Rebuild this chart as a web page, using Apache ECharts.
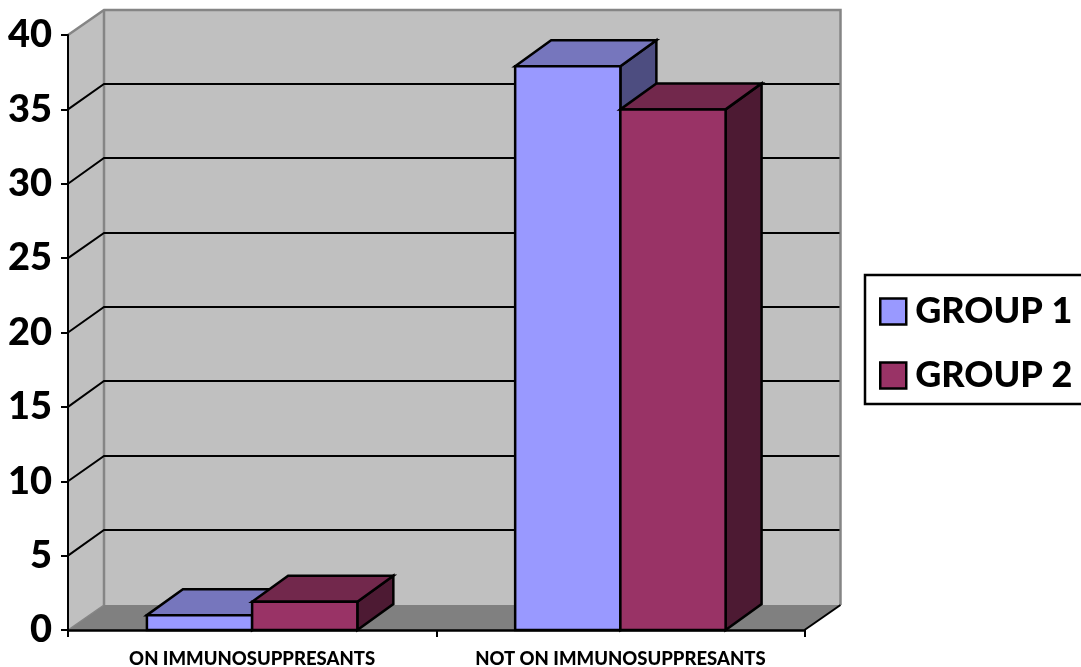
<!DOCTYPE html>
<html>
<head>
<meta charset="utf-8">
<style>html,body{margin:0;padding:0;background:#fff}#chart{width:1081px;height:667px}</style>
<script src="https://cdn.jsdelivr.net/npm/echarts@6/dist/echarts.min.js"></script>
</head>
<body>
<div id="chart"></div>
<script>
const categories = ['ON IMMUNOSUPPRESANTS', 'NOT ON IMMUNOSUPPRESANTS'];
const group1 = [1, 37.9];
const group2 = [1.9, 35];
const yTicks = [5, 10, 15, 20, 25, 30, 35];

const FONT = 'Lato, "Open Sans", sans-serif';
const WALL_DX = 36, WALL_DY = 25;   // receding offset of the chart box
const BAR_DX = 36, BAR_DY = 26;     // receding offset of each column
const GAP_UNITS = 3.5;              // band width expressed in column widths
const EDGE = 2.5;                   // outline width of the columns

const line = (pts, color, width) => ({
  type: 'polyline', shape: { points: pts },
  style: { stroke: color, lineWidth: width, fill: null, lineJoin: 'miter' }
});
const poly = (pts, fill, stroke, width) => ({
  type: 'polygon', shape: { points: pts },
  style: { fill, stroke: stroke || fill, lineWidth: width || 0, lineJoin: 'miter' }
});

// Side wall, back wall and floor of the box
function renderWalls(params, api) {
  const g = params.coordSys;
  const x0 = g.x, x1 = g.x + g.width;
  const yB = api.coord([0, 0])[1], yT = api.coord([0, 40])[1];
  const dx = WALL_DX, dy = WALL_DY;
  const grey = '#858585';
  return {
    type: 'group',
    children: [
      poly([[x0 + dx, yT - dy], [x1 + dx, yT - dy], [x1 + dx, yB - dy], [x0 + dx, yB - dy]], '#c0c0c0'),
      poly([[x0, yT], [x0 + dx, yT - dy], [x0 + dx, yB - dy], [x0, yB]], '#c0c0c0'),
      poly([[x0, yB], [x0 + dx, yB - dy], [x1 + dx, yB - dy], [x1, yB]], '#808080'),
      line([[x0, yT], [x0 + dx, yT - dy], [x1 + dx, yT - dy], [x1 + dx, yB - dy]], grey, 2.5),
      line([[x0 + dx, yT - dy], [x0 + dx, yB - dy]], grey, 2.5),
      line([[x0, yB], [x0 + dx, yB - dy]], grey, 1.5),
      line([[x1, yB], [x1 + dx, yB - dy]], '#000', 2)
    ]
  };
}

// One gridline bent along the side wall and the back wall
function renderGridline(params, api) {
  const g = params.coordSys;
  const y = api.coord([0, api.value(1)])[1];
  const back = Math.floor(y - WALL_DY);
  return line([
    [g.x, y],
    [g.x + WALL_DX, back],
    [g.x + g.width + WALL_DX - 1, back]
  ], '#000', 2);
}

// A column with front, top and side faces; slot 0 sits left of the band centre, slot 1 right
function columnRenderer(slot, front, top, side) {
  return function (params, api) {
    const idx = api.value(0);
    const base = api.coord([idx, 0]);
    const head = api.coord([idx, api.value(1)]);
    const w = api.size([1, 0])[0] / GAP_UNITS;
    const l = base[0] + (slot - 1) * w, r = l + w;
    const yt = head[1], yb = base[1];
    const dx = BAR_DX, dy = BAR_DY;
    return {
      type: 'group',
      children: [
        poly([[r, yt], [r + dx, yt - dy], [r + dx, yb - dy], [r, yb]], side, '#000', EDGE),
        poly([[l, yt], [l + dx, yt - dy], [r + dx, yt - dy], [r, yt]], top, '#000', EDGE),
        poly([[l, yt], [r, yt], [r, yb], [l, yb]], front, '#000', EDGE)
      ]
    };
  };
}

const chart = echarts.init(document.getElementById('chart'), null, { renderer: 'canvas' });
chart.setOption({
  animation: false,
  backgroundColor: '#fff',
  color: ['#9999ff', '#993366'],
  grid: { left: 68, right: 276.5, top: 35, bottom: 37, outerBoundsMode: 'none' },
  legend: {
    data: ['GROUP 1', 'GROUP 2'],
    selectedMode: false,
    orient: 'vertical',
    left: 865,
    top: 275,
    padding: [15, 30, 7, 14],
    borderColor: '#000',
    borderWidth: 2.5,
    backgroundColor: '#fff',
    itemWidth: 26,
    itemHeight: 26,
    itemGap: 21,
    icon: 'rect',
    itemStyle: { borderColor: '#000', borderWidth: 2.5 },
    textStyle: { fontFamily: FONT, fontWeight: 900, fontSize: 36, color: '#000', lineHeight: 40, padding: [3, 0, 0, 4] }
  },
  xAxis: {
    type: 'category',
    data: categories,
    z: 10,
    axisLine: { show: true, onZero: false, lineStyle: { color: '#000', width: 2.5 } },
    axisTick: { show: true, length: 7, lineStyle: { color: '#000', width: 2 } },
    axisLabel: { margin: 20, fontFamily: FONT, fontWeight: 900, fontSize: 18.5, color: '#000', interval: 0 },
    splitLine: { show: false }
  },
  yAxis: {
    type: 'value',
    min: 0,
    max: 40,
    interval: 5,
    z: 10,
    axisLine: { show: true, lineStyle: { color: '#000', width: 2 } },
    axisTick: { show: true, length: 7, lineStyle: { color: '#000', width: 2 } },
    axisLabel: { margin: 16, fontFamily: FONT, fontWeight: 900, fontSize: 38, color: '#000' },
    splitLine: { show: false }
  },
  series: [
    { type: 'custom', name: 'walls', z: 1, silent: true, renderItem: renderWalls, data: [[0, 0]] },
    { type: 'custom', name: 'gridlines', z: 2, silent: true, renderItem: renderGridline, data: yTicks.map(t => [0, t]) },
    {
      type: 'custom', name: 'GROUP 1', z: 3,
      itemStyle: { color: '#9999ff' },
      renderItem: columnRenderer(0, '#9999ff', '#7676bd', '#4d4d80'),
      data: group1.map((v, i) => [i, v])
    },
    {
      type: 'custom', name: 'GROUP 2', z: 4,
      itemStyle: { color: '#993366' },
      renderItem: columnRenderer(1, '#993366', '#72284c', '#4d1a33'),
      data: group2.map((v, i) => [i, v])
    }
  ]
});
</script>
</body>
</html>
